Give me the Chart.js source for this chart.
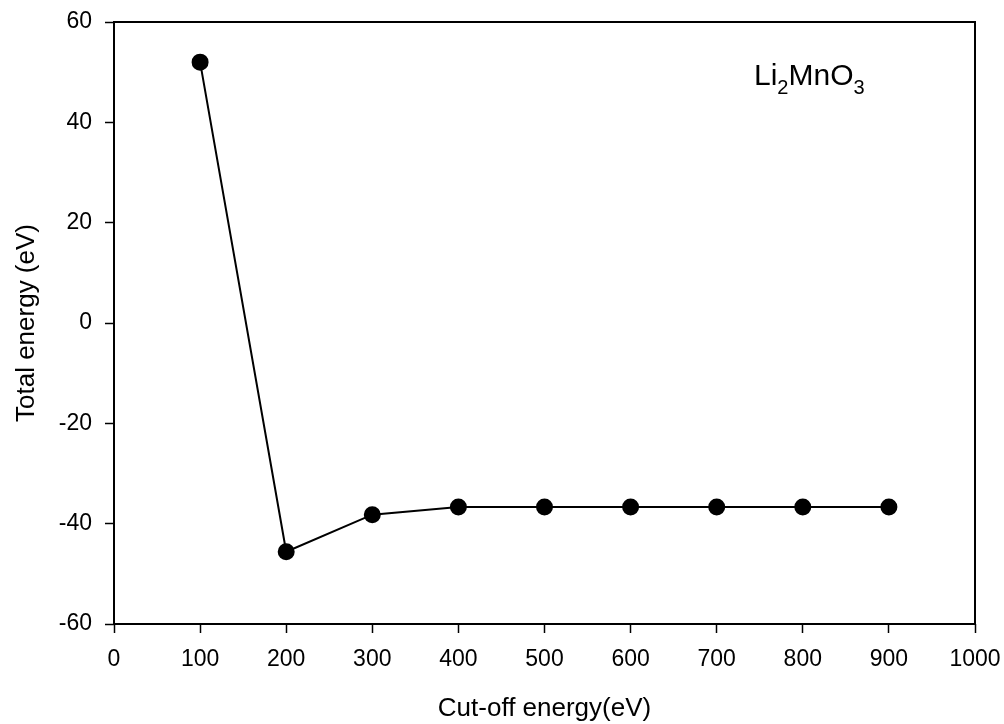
<!DOCTYPE html>
<html>
<head>
<meta charset="utf-8">
<script src="https://cdn.jsdelivr.net/npm/chart.js"></script>
<style>
  html, body { margin: 0; padding: 0; background: #fff; }
  #wrap { width: 1004px; height: 724px; }
</style>
</head>
<body>
<div id="wrap"><canvas id="chart" width="1004" height="724"></canvas></div>
<script>
// cut-off energy (eV) and total energy (eV)
const cutoff = [100, 200, 300, 400, 500, 600, 700, 800, 900];
const totalEnergy = [52.0, -45.6, -38.2, -36.7, -36.7, -36.7, -36.7, -36.7, -36.7];
const xTicks = [0, 100, 200, 300, 400, 500, 600, 700, 800, 900, 1000];
const yTicks = [-60, -40, -20, 0, 20, 40, 60];

const FONT = 'Liberation Sans, Arial, sans-serif';

// frame around plot area + compound label
const framePlugin = {
  id: 'frame',
  afterDraw(chart) {
    const { ctx, chartArea: a } = chart;
    ctx.save();
    ctx.strokeStyle = '#000';
    ctx.lineWidth = 2;
    ctx.strokeRect(a.left, a.top, a.right - a.left, a.bottom - a.top);

    // Li2MnO3 with subscripts
    ctx.fillStyle = '#000';
    ctx.textBaseline = 'alphabetic';
    let x = 754, y = 85;
    const parts = [['Li', false], ['2', true], ['MnO', false], ['3', true]];
    for (const [t, sub] of parts) {
      ctx.font = (sub ? '20px ' : '30px ') + FONT;
      ctx.fillText(t, x, sub ? y + 9 : y);
      x += ctx.measureText(t).width;
    }
    ctx.restore();
  }
};

new Chart(document.getElementById('chart'), {
  type: 'line',
  data: {
    datasets: [{
      data: cutoff.map((c, i) => ({ x: c, y: totalEnergy[i] })),
      borderColor: '#000',
      borderWidth: 2,
      backgroundColor: '#000',
      pointRadius: 7.5,
      pointBackgroundColor: '#000',
      pointBorderColor: '#000',
      tension: 0
    }]
  },
  options: {
    responsive: false,
    animation: false,
    layout: { padding: { left: 0, top: 22, right: 29, bottom: 0 } },
    plugins: { legend: { display: false }, tooltip: { enabled: false } },
    scales: {
      x: {
        type: 'linear',
        min: 0, max: 1000,
        afterBuildTicks(s) { s.ticks = xTicks.map(v => ({ value: v })); },
        afterFit(s) { s.height = 100; s.paddingLeft = 0; s.paddingRight = 0; },
        grid: { drawOnChartArea: false, tickLength: 9, tickWidth: 1.5, tickColor: '#000' },
        border: { display: false },
        ticks: { color: '#000', font: { family: FONT, size: 23 }, padding: 13, maxRotation: 0, callback: v => String(v) },
        title: { display: true, text: 'Cut-off energy(eV)', color: '#000', font: { family: FONT, size: 26 }, padding: { top: 0, bottom: 0 } }
      },
      y: {
        type: 'linear',
        min: -60, max: 60,
        afterBuildTicks(s) { s.ticks = yTicks.map(v => ({ value: v })); },
        afterFit(s) { s.width = 114; s.paddingTop = 0; s.paddingBottom = 0; },
        grid: { drawOnChartArea: false, tickLength: 9, tickWidth: 1.5, tickColor: '#000' },
        border: { display: false },
        ticks: { color: '#000', font: { family: FONT, size: 23 }, padding: 13, callback: v => String(v) },
        title: { display: true, text: 'Total energy (eV)', color: '#000', font: { family: FONT, size: 26 }, padding: { top: 11, bottom: 0 } }
      }
    }
  },
  plugins: [framePlugin]
});
</script>
</body>
</html>
